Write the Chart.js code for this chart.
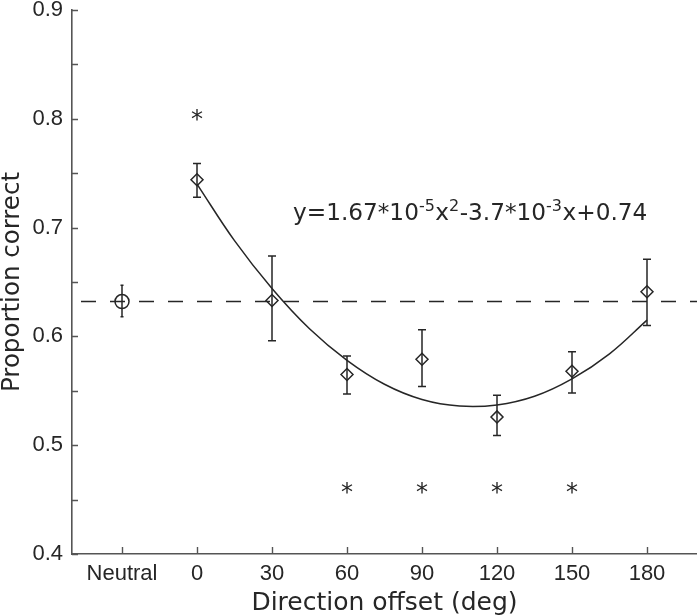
<!DOCTYPE html>
<html><head><meta charset="utf-8">
<script src="https://cdn.jsdelivr.net/npm/chart.js@4.4.1/dist/chart.umd.min.js"></script>
<style>html,body{margin:0;padding:0;background:#fff}</style>
</head><body>
<canvas id="c" width="697" height="616"></canvas>
<script>
// ---- data ----
const xTickValues = [-30, 0, 30, 60, 90, 120, 150, 180];
const xTickLabels = ['Neutral', '0', '30', '60', '90', '120', '150', '180'];

const neutralX = [-30];
const neutralMean = [0.632];
const neutralLow = [0.618];
const neutralHigh = [0.647];

const offsets = [0, 30, 60, 90, 120, 150, 180];
const meanCorrect = [0.744, 0.633, 0.565, 0.579, 0.526, 0.568, 0.641];
const lowCorrect  = [0.728, 0.596, 0.547, 0.554, 0.509, 0.548, 0.610];
const highCorrect = [0.759, 0.674, 0.582, 0.606, 0.546, 0.586, 0.671];

const fitX = [0, 15, 30, 45, 60, 75, 90, 105, 120, 135, 150, 165, 180];
const fitY = [0.740, 0.688, 0.644, 0.607, 0.578, 0.556, 0.542, 0.536, 0.537, 0.545, 0.561, 0.584, 0.615];

const refLineX = [-50, 200];
const refLineY = [0.632, 0.632];

const starX = [0, 60, 90, 120, 150];
const starY = [0.804, 0.4612, 0.4612, 0.4612, 0.4612];

// equation text pieces: [text, isSuperscript]
const equationParts = [['y=1.67*10', false], ['-5', true], ['x', false], ['2', true],
                       ['-3.7*10', false], ['-3', true], ['x+0.74', false]];
const equationAt = [38.4, 0.707];

// ---- styling ----
const FONT = '"DejaVu Sans", sans-serif';
const TICKFONT = '"Liberation Sans", Arial, sans-serif';
const INK = '#262626';
const AXIS = '#555555';
const LW = 1.5;

const pts = (xs, ys) => xs.map((x, i) => ({x, y: ys[i]}));

const extras = {
  id: 'extras',
  beforeDatasetsDraw(chart) {
    const {ctx, scales: {x, y}} = chart;
    ctx.save();
    ctx.strokeStyle = INK;
    ctx.lineWidth = LW;
    const bars = (xs, lo, hi, cap) => {
      xs.forEach((v, i) => {
        const px = x.getPixelForValue(v);
        const p1 = y.getPixelForValue(lo[i]);
        const p2 = y.getPixelForValue(hi[i]);
        ctx.beginPath();
        ctx.moveTo(px, p1); ctx.lineTo(px, p2);
        ctx.moveTo(px - cap, p1); ctx.lineTo(px + cap, p1);
        ctx.moveTo(px - cap, p2); ctx.lineTo(px + cap, p2);
        ctx.stroke();
      });
    };
    bars(neutralX, neutralLow, neutralHigh, 1.5);
    bars(offsets, lowCorrect, highCorrect, 4);
    ctx.restore();
  },
  afterDraw(chart) {
    const {ctx, chartArea: a, scales: {x, y}} = chart;
    ctx.save();
    // inward ticks
    ctx.strokeStyle = AXIS;
    ctx.lineWidth = 1.4;
    ctx.beginPath();
    y.ticks.forEach(t => {
      const py = Math.round(y.getPixelForValue(t.value)) + 0.5;
      ctx.moveTo(a.left, py); ctx.lineTo(a.left + 6, py);
    });
    x.ticks.forEach(t => {
      const px = Math.round(x.getPixelForValue(t.value)) + 0.5;
      ctx.moveTo(px, a.bottom); ctx.lineTo(px, a.bottom - 7);
    });
    ctx.stroke();
    // asterisks
    ctx.fillStyle = INK;
    ctx.font = '24px ' + FONT;
    ctx.textAlign = 'center';
    ctx.textBaseline = 'alphabetic';
    starX.forEach((v, i) => {
      ctx.fillText('*', x.getPixelForValue(v), y.getPixelForValue(starY[i]) + 13);
    });
    // equation
    ctx.textAlign = 'left';
    let ex = x.getPixelForValue(equationAt[0]);
    const ey = y.getPixelForValue(equationAt[1]);
    equationParts.forEach(([t, sup]) => {
      ctx.font = (sup ? '16px ' : '23.2px ') + FONT;
      ctx.fillText(t, ex, sup ? ey - 9 : ey);
      ex += ctx.measureText(t).width + (sup ? 0.5 : 0);
    });
    ctx.restore();
  }
};

new Chart(document.getElementById('c'), {
  type: 'scatter',
  data: {
    datasets: [
      {
        data: pts(refLineX, refLineY),
        showLine: true, pointRadius: 0, borderColor: INK, borderWidth: LW,
        borderDash: [15, 14], borderDashOffset: 20
      },
      {
        data: pts(fitX, fitY),
        showLine: true, pointRadius: 0, borderColor: INK, borderWidth: LW,
        tension: 0.4
      },
      {
        data: pts(offsets, meanCorrect),
        pointStyle: 'rectRot', pointRadius: 6, borderColor: INK, borderWidth: LW,
        backgroundColor: 'rgba(0,0,0,0)'
      },
      {
        data: pts(neutralX, neutralMean),
        pointStyle: 'circle', pointRadius: 7, borderColor: INK, borderWidth: LW,
        backgroundColor: 'rgba(0,0,0,0)'
      }
    ]
  },
  options: {
    responsive: false,
    animation: false,
    devicePixelRatio: 1,
    layout: {autoPadding: false, padding: {top: 10, right: 0, left: 0, bottom: 0}},
    plugins: {legend: {display: false}, tooltip: {enabled: false}},
    scales: {
      x: {
        type: 'linear', min: -50, max: 200,
        afterBuildTicks: s => { s.ticks = xTickValues.map(v => ({value: v})); },
        afterFit: s => { s.height = 62; s.paddingLeft = 0; s.paddingRight = 0; },
        ticks: {
          callback: v => { const i = xTickValues.indexOf(v); return i >= 0 ? xTickLabels[i] : ''; },
          font: {family: TICKFONT, size: 22}, color: INK, padding: 7, maxRotation: 0, autoSkip: false
        },
        grid: {drawOnChartArea: false, drawTicks: false},
        border: {display: true, color: AXIS, width: 1.6},
        title: {display: true, text: 'Direction offset (deg)', color: INK,
                font: {family: FONT, size: 25, lineHeight: 1}, padding: {top: 0, bottom: 0}}
      },
      y: {
        min: 0.4, max: 0.9,
        afterFit: s => { s.width = 72; s.paddingTop = 0; s.paddingBottom = 0; },
        ticks: {
          stepSize: 0.05,
          callback: v => Math.abs(v * 10 - Math.round(v * 10)) < 1e-6 ? v.toFixed(1) : '',
          font: {family: TICKFONT, size: 22}, color: INK, padding: 9
        },
        grid: {drawOnChartArea: false, drawTicks: false},
        border: {display: true, color: AXIS, width: 1.6},
        title: {display: true, text: 'Proportion correct', color: INK,
                font: {family: FONT, size: 24.5, lineHeight: 1}, padding: {top: 0, bottom: 0}}
      }
    }
  },
  plugins: [extras]
});
</script>
</body></html>
